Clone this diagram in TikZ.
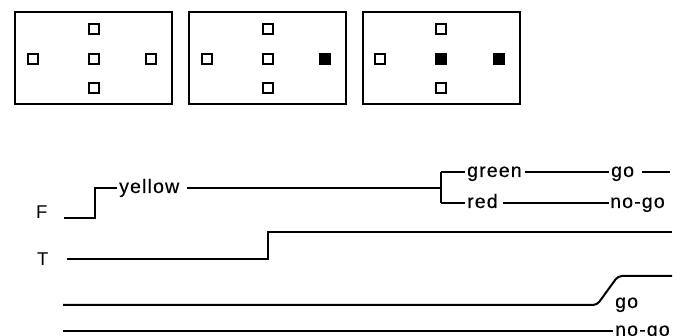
\documentclass[tikz,border=0pt]{standalone}
\usepackage{fontspec}
\setmainfont{Liberation Sans}
\newfontfamily\lblfont[LetterSpace=6,FakeBold=0.4]{Liberation Sans}
\begin{document}
\begin{tikzpicture}[x=1pt,y=-1pt,
  frame/.style={draw, line width=2pt, minimum width=157pt, minimum height=92pt, inner sep=0},
  lamp/.style={draw, line width=2pt, minimum size=10pt, inner sep=0, fill=white},
  sig/.style={line width=2pt},
  lbl/.style={anchor=base west, inner sep=0, font=\lblfont\fontsize{19.5pt}{21pt}\selectfont},
  axis/.style={anchor=base west, inner sep=0, font=\fontsize{18.5pt}{20pt}\selectfont}]
\useasboundingbox (0,0) rectangle (681,336);
% top panels
\foreach \i/\cx/\fc/\fr in {1/93.5/white/white, 2/267.5/white/black, 3/441/black/black} {
  \node[frame] (b\i) at (\cx,58) {};
  \node[lamp] (b\i t) at (\cx,29) {};
  \node[lamp] (b\i b) at (\cx,88) {};
  \node[lamp] (b\i l) at (\cx-61,59.5) {};
  \node[lamp, fill=\fc] (b\i c) at (\cx,59.5) {};
  \node[lamp, fill=\fr] (b\i r) at (\cx+57.5,59.5) {};
}
% labels
\node[axis] (F) at (36,219) {F};
\node[axis] (T) at (37,266) {T};
\node[lbl] (yellow) at (119,193) {yellow};
\node[lbl] (green) at (467,177) {green};
\node[lbl] (go1) at (611,177) {go};
\node[lbl] (red) at (467,208) {red};
\node[lbl] (nogo1) at (610,208) {no-go};
\node[lbl] (go2) at (615,308) {go};
\node[lbl] (nogo2) at (615,336) {no-go};
% first signal
\coordinate (fs) at (64,218);
\coordinate (fstep) at (95,218);
\coordinate (split) at (441,188);
\draw[sig] (fs) -- (fstep) -- (95,188) -- (117,188);
\draw[sig] (187,188) -- (split);
\draw[sig] (441,172) -- (441,203);
\draw[sig] (441,172) -- (465,172);
\draw[sig] (525,172) -- (609,172);
\draw[sig] (642,172) -- (670,172);
\draw[sig] (441,203) -- (465,203);
\draw[sig] (503,203) -- (609,203);
% T signal
\coordinate (ts) at (67,259);
\draw[sig] (ts) -- (268,259) -- (268,232) -- (672,232);
% third signal
\coordinate (s3) at (63,305);
\draw[sig, rounded corners=4pt] (s3) -- (597,305) -- (618,276) -- (672,276);
% fourth signal
\coordinate (s4) at (63,331);
\draw[sig] (s4) -- (613,331);
\end{tikzpicture}
\end{document}
